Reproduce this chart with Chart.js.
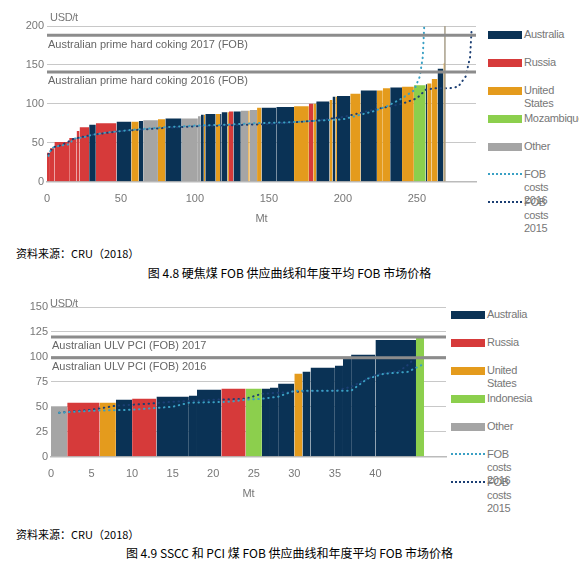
<!DOCTYPE html>
<html>
<head>
<meta charset="utf-8">
<script src="https://cdn.jsdelivr.net/npm/chart.js@4.4.1/dist/chart.umd.min.js"></script>
<style>
  body { margin:0; width:579px; height:575px; background:#fff; position:relative; font-family:"Liberation Sans Narrow","Liberation Sans",Arial,sans-serif; overflow:hidden; }
  .box { position:absolute; }
  .unit { position:absolute; font-size:11px; color:#777; letter-spacing:-0.3px; }
  .legend { position:absolute; font-size:11px; color:#777; letter-spacing:-0.3px; }
  .legend div { position:relative; height:28px; }
  .sw { position:absolute; left:0; top:3px; width:34px; height:8px; }
  .dot { position:absolute; left:0; top:5px; width:34px; border-top:2px dotted; }
  .legend span { position:absolute; left:36px; top:0; line-height:13px; }
  .src { position:absolute; left:16px; font-family:"Noto Sans CJK SC","DejaVu Sans Mono",monospace; font-size:11px; color:#000; }
  .cap { position:absolute; left:0; width:579px; text-align:center; font-family:"Noto Sans CJK SC",sans-serif; font-size:12px; color:#000; }
</style>
</head>
<body>
<div class="box" style="left:0;top:0;width:480px;height:230px"><canvas id="c1"></canvas></div>
<div class="unit" style="left:50px;top:11px">USD/t</div>
<div class="legend" style="left:488px;top:28px">
  <div><i class="sw" style="background:#0a3255"></i><span>Australia</span></div>
  <div><i class="sw" style="background:#d63a3a"></i><span>Russia</span></div>
  <div><i class="sw" style="background:#e49b1d"></i><span>United States</span></div>
  <div><i class="sw" style="background:#8ccf4d"></i><span>Mozambique</span></div>
  <div><i class="sw" style="background:#a5a5a5"></i><span>Other</span></div>
  <div><i class="dot" style="border-color:#3aa0c4"></i><span>FOB costs<br>2016</span></div>
  <div><i class="dot" style="border-color:#1c3f74"></i><span>FOB costs<br>2015</span></div>
</div>
<div class="src" style="top:245px">资料来源：CRU（2018）</div>
<div class="cap" style="top:264px">图 4.8 硬焦煤 FOB 供应曲线和年度平均 FOB 市场价格</div>

<div class="box" style="left:0;top:295px;width:450px;height:210px"><canvas id="c2"></canvas></div>
<div class="unit" style="left:50px;top:297px">USD/t</div>
<div class="legend" style="left:451px;top:308px">
  <div><i class="sw" style="background:#0a3255"></i><span>Australia</span></div>
  <div><i class="sw" style="background:#d63a3a"></i><span>Russia</span></div>
  <div><i class="sw" style="background:#e49b1d"></i><span>United States</span></div>
  <div><i class="sw" style="background:#8ccf4d"></i><span>Indonesia</span></div>
  <div><i class="sw" style="background:#a5a5a5"></i><span>Other</span></div>
  <div><i class="dot" style="border-color:#3aa0c4"></i><span>FOB costs<br>2016</span></div>
  <div><i class="dot" style="border-color:#1c3f74"></i><span>FOB costs<br>2015</span></div>
</div>
<div class="src" style="top:526px">资料来源：CRU（2018）</div>
<div class="cap" style="top:544px">图 4.9 SSCC 和 PCI 煤 FOB 供应曲线和年度平均 FOB 市场价格</div>

<script>
// COULEURS
const COLORS = { A:'#0a3255', R:'#d63a3a', U:'#e49b1d', G:'#8ccf4d', O:'#a5a5a5' };

// GRAPHIQUE 1 : hard coking coal
const hccEnds    = [2,5,15,20,22,28.5,33,47,57,62,65,75,80,91,102,104,106,107,114,117,118,122,123,126,131,136,137,142,145,155,167,177,180,182,191,193,195,196,205,212,223,227,232,240,248,256,257,260,264,268,269];
const hccHeights = [37,43,51,56,65,70,73,75,77,77,78,79,80,81,81,84,86,86,87,87,87,89,89,90,90,91,91,92,95,95,96,97,100,100,103,105,109,109,110,113,117,117,120,121,122,124,125,126,132,145,152];
const hccCountry = ['R','R','R','R','R','R','A','R','A','U','A','O','U','A','O','O','A','U','A','U','A','A','U','R','A','O','U','O','U','A','A','U','R','U','A','U','A','U','A','U','A','U','U','A','U','G','A','U','U','A','U'];
const hccFob16 = [[1,33],[3,43],[8,46],[15,48],[18,55],[25,57],[30,60],[40,63],[50,65],[60,67],[80,70],[100,72],[120,73],[140,75],[160,76],[180,78],[200,80],[210,85],[220,90],[230,97],[240,107],[248,117],[252,135],[254,160],[255,200]];
const hccFob15 = [[1,35],[4,44],[10,47],[18,55],[30,60],[50,65],[80,69],[100,71],[150,74],[180,78],[200,83],[220,92],[240,100],[250,107],[256,118],[262,120],[272,120],[278,122],[283,135],[286,160],[287,195]];
const hccPrices = [[188,'Australian prime hard coking 2017 (FOB)'],[141,'Australian prime hard coking 2016 (FOB)']];

// GRAPHIQUE 2 : SSCC / PCI
const pciEnds    = [2,6,8,10,13,17,18,21,24,26,27,28,30,31,32,35,36,37,40,45,46];
const pciHeights = [50,54,54,57,58,60,61,67,68,68,68,69,73,83,85,89,91,98,102,117,119];
const pciCountry = ['O','R','U','A','R','A','A','A','R','G','A','A','A','U','A','A','A','A','A','A','G'];
const pciFob16 = [[1,44],[5,46],[10,47],[15,50],[17,54],[22,55],[24,57],[26,58],[28,60],[30,66],[37,66],[38,72],[39,78],[41,83],[44,85],[46,93]];
const pciFob15 = [[1,44],[5,47],[8,51],[12,53],[15,55],[20,57],[24,58],[26,63],[30,65],[35,66],[37,70],[38,74],[40,82],[43,86],[44,92],[45,100]];
const pciPrices = [[120,'Australian ULV PCI (FOB) 2017'],[99,'Australian ULV PCI (FOB) 2016']];

const toPts = arr => arr.map(p => ({ x:p[0], y:p[1] }));

// texte sous les lignes de prix
const priceLabels = {
  id:'priceLabels',
  afterDatasetsDraw(chart, args, opts) {
    const { ctx, scales:{ x, y } } = chart;
    ctx.save();
    ctx.font = '11px "Liberation Sans Narrow", "Liberation Sans", sans-serif';
    ctx.fillStyle = '#666';
    ctx.textBaseline = 'top';
    opts.items.forEach(([v, txt]) => ctx.fillText(txt, x.left + 1, y.getPixelForValue(v) + 4));
    ctx.restore();
  }
};

function buildChart(id, c) {
  const datasets = [];
  c.prices.forEach(([v]) => datasets.push({
    data:[{x:0,y:v},{x:c.xmax,y:v}], borderColor:'#8c8c8c', borderWidth:3, pointRadius:0, order:0
  }));
  c.ends.forEach((e, i) => {
    const s = i === 0 ? 0 : c.ends[i-1];
    datasets.push({
      data:[{x:s,y:c.heights[i]},{x:e,y:c.heights[i]}],
      backgroundColor:COLORS[c.country[i]], borderWidth:0, pointRadius:0, fill:'origin', order:3
    });
  });
  if (c.vline) datasets.push({ data:[{x:c.vline,y:0},{x:c.vline,y:200}], borderColor:'#a89f8a', borderWidth:1.5, pointRadius:0, order:1 });
  [[c.fob16,'#3aa0c4'],[c.fob15,'#1c3f74']].forEach(([pts, col]) => datasets.push({
    data:toPts(pts), borderColor:col, borderWidth:2, borderDash:[0.5,4.5], borderCapStyle:'round',
    pointRadius:0, tension:0, order:1
  }));

  new Chart(document.getElementById(id), {
    type:'line',
    data:{ datasets },
    options:{
      responsive:true, maintainAspectRatio:false, animation:false,
      layout:{ padding:{ top:c.padTop, right:4 } },
      plugins:{ legend:{ display:false }, tooltip:{ enabled:false }, priceLabels:{ items:c.prices } },
      scales:{
        x:{ type:'linear', min:0, max:c.xmax,
            ticks:{ stepSize:c.xstep, color:'#777', font:{ size:11 }, callback:v => v <= c.xlast ? v : '' },
            grid:{ display:false }, border:{ color:'#bbb', width:1.5 },
            title:{ display:true, text:'Mt', color:'#777', font:{ size:11 } } },
        y:{ min:0, max:c.ymax,
            ticks:{ stepSize:c.ystep, color:'#777', font:{ size:11 } },
            grid:{ color:'#c8c8c8', drawTicks:false }, border:{ display:false },
            afterFit:s => { s.width = c.yw; } }
      }
    },
    plugins:[priceLabels]
  });
}

buildChart('c1', { ends:hccEnds, heights:hccHeights, country:hccCountry, fob16:hccFob16, fob15:hccFob15,
  prices:hccPrices, xmax:290, xstep:50, xlast:250, ymax:200, ystep:50, yw:47, padTop:26, vline:269 });
buildChart('c2', { ends:pciEnds, heights:pciHeights, country:pciCountry, fob16:pciFob16, fob15:pciFob15,
  prices:pciPrices, xmax:48.7, xstep:5, xlast:45, ymax:150, ystep:25, yw:51, padTop:12 });
</script>
</body>
</html>
